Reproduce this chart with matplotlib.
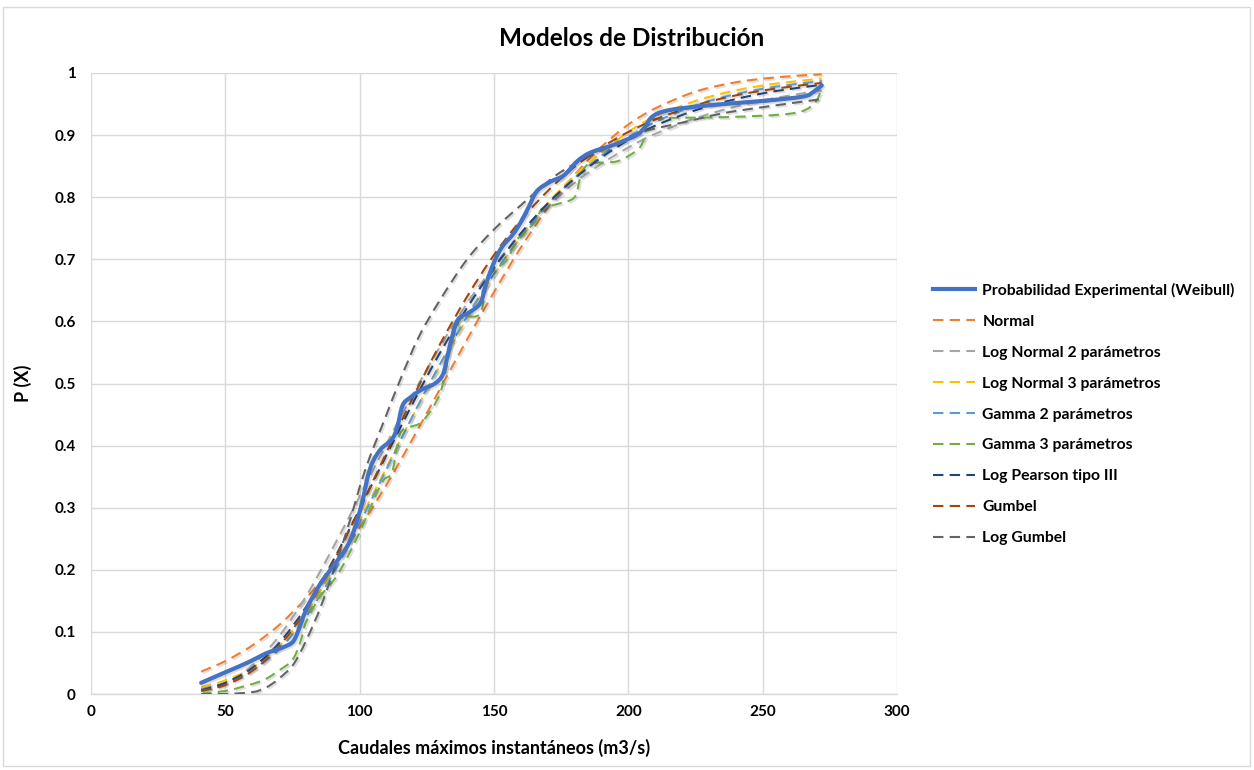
import matplotlib
matplotlib.use("Agg")
import matplotlib.pyplot as plt
import numpy as np
from matplotlib.path import Path
from matplotlib.patches import PathPatch, Rectangle
from matplotlib.lines import Line2D
import matplotlib.patheffects as pe


plt.rcParams["font.family"] = ["Lato", "DejaVu Sans"]
plt.rcParams["font.weight"] = "bold"

# --- datos ---
# probabilidad experimental (Weibull)
exp_x = [41, 50, 58, 65.5, 73, 76, 80, 85, 90, 95, 98, 101, 103, 105, 108, 112,
         114, 116, 119, 123, 128, 131, 133, 135, 137, 141, 145, 147, 150, 153,
         157, 160, 163, 166, 171, 176, 181, 186, 195, 203, 206, 209, 215, 230,
         250, 265, 269, 272]
exp_p = [0.018, 0.035, 0.05, 0.066, 0.078, 0.09, 0.135, 0.175, 0.205, 0.235,
         0.265, 0.31, 0.35, 0.375, 0.395, 0.41, 0.43, 0.465, 0.478, 0.49, 0.50,
         0.515, 0.55, 0.585, 0.605, 0.615, 0.63, 0.66, 0.695, 0.72, 0.74, 0.76,
         0.785, 0.81, 0.825, 0.835, 0.858, 0.872, 0.885, 0.90, 0.912, 0.93,
         0.94, 0.948, 0.955, 0.962, 0.97, 0.98]

fit_x = [41, 50, 60, 70, 80, 90, 100, 110, 120, 130, 140, 150, 160, 170, 180,
         190, 200, 210, 225, 240, 255, 272]
normal_p = [0.036, 0.053, 0.078, 0.111, 0.154, 0.206, 0.268, 0.337, 0.413,
            0.492, 0.571, 0.647, 0.719, 0.782, 0.836, 0.881, 0.917, 0.943,
            0.970, 0.985, 0.993, 0.998]
lognormal2_p = [0.005, 0.017, 0.046, 0.093, 0.157, 0.235, 0.318, 0.403, 0.484,
                0.56, 0.629, 0.689, 0.741, 0.785, 0.823, 0.854, 0.88, 0.902,
                0.927, 0.946, 0.96, 0.972]
lognormal3_p = [0.011, 0.022, 0.042, 0.077, 0.13, 0.2, 0.28, 0.365, 0.45, 0.53,
                0.605, 0.675, 0.735, 0.79, 0.835, 0.872, 0.905, 0.93, 0.955,
                0.972, 0.983, 0.991]
gamma2_p = [0.008, 0.018, 0.038, 0.072, 0.124, 0.193, 0.275, 0.362, 0.45,
            0.532, 0.608, 0.676, 0.736, 0.788, 0.831, 0.867, 0.897, 0.921,
            0.948, 0.966, 0.978, 0.987]
logpearson_p = [0.006, 0.018, 0.042, 0.082, 0.14, 0.214, 0.298, 0.385, 0.47,
                0.55, 0.622, 0.686, 0.742, 0.79, 0.83, 0.864, 0.892, 0.915,
                0.94, 0.958, 0.971, 0.981]
gumbel_p = [0.005, 0.0145, 0.037, 0.077, 0.135, 0.211, 0.298, 0.389, 0.479,
            0.564, 0.64, 0.707, 0.763, 0.81, 0.849, 0.88, 0.905, 0.925, 0.948,
            0.964, 0.975, 0.984]

gamma3_x = [41, 50, 55, 64, 70, 75, 78, 80, 85, 91, 96, 101, 106, 109, 112,
            114, 116, 122.5, 127, 130, 132, 133.6, 136, 138.5, 145, 147, 151,
            155, 158.5, 163, 166, 168, 174.5, 180, 182, 184, 187, 196, 203,
            205.5, 207, 212, 237, 261, 269, 272]
gamma3_p = [0.0, 0.005, 0.01, 0.022, 0.038, 0.055, 0.085, 0.115, 0.155, 0.187,
            0.225, 0.27, 0.32, 0.345, 0.356, 0.40, 0.425, 0.436, 0.46, 0.485,
            0.52, 0.554, 0.59, 0.607, 0.613, 0.667, 0.685, 0.70, 0.731, 0.75,
            0.763, 0.782, 0.79, 0.80, 0.83, 0.849, 0.855, 0.858, 0.875, 0.89,
            0.92, 0.927, 0.929, 0.935, 0.95, 0.975]

loggumbel_x = [41, 50, 60, 65, 70, 76, 83, 88, 95, 102, 110, 115, 122, 130,
               140, 150, 160, 173, 185, 195, 205, 220, 235, 250, 272]
loggumbel_p = [0.0, 0.0, 0.003, 0.01, 0.025, 0.052, 0.114, 0.17, 0.26, 0.36,
               0.45, 0.505, 0.575, 0.635, 0.70, 0.748, 0.787, 0.835, 0.865,
               0.885, 0.905, 0.92, 0.935, 0.945, 0.958]

x_ticks = [0, 50, 100, 150, 200, 250, 300]
y_ticks = [0, 0.1, 0.2, 0.3, 0.4, 0.5, 0.6, 0.7, 0.8, 0.9, 1]


def smooth_path(xs, ys):
    # curva suavizada tipo Excel (Catmull-Rom -> Bezier)
    pts = np.column_stack([xs, ys]).astype(float)
    verts = [pts[0]]
    codes = [Path.MOVETO]
    n = len(pts)
    for i in range(n - 1):
        p0 = pts[i - 1] if i > 0 else pts[i]
        p1 = pts[i]
        p2 = pts[i + 1]
        p3 = pts[i + 2] if i + 2 < n else pts[i + 1]
        c1 = p1 + (p2 - p0) / 6.0
        c2 = p2 - (p3 - p1) / 6.0
        verts += [c1, c2, p2]
        codes += [Path.CURVE4] * 3
    return Path(verts, codes)


def draw_series(ax, xs, ys, color, lw, dashed, z=3):
    ls = (0, (5, 3)) if dashed else "-"
    patch = PathPatch(smooth_path(xs, ys), fill=False, edgecolor=color,
                      linewidth=lw, linestyle=ls,
                      capstyle="butt" if dashed else "round",
                      joinstyle="round", zorder=z)
    patch.set_path_effects([
        pe.SimpleLineShadow(offset=(1.2, -1.2), shadow_color="black", alpha=0.12),
        pe.Normal(),
    ])
    ax.add_patch(patch)
    return Line2D([], [], color=color, linewidth=lw, linestyle=ls)


fig = plt.figure(figsize=(12.54, 7.70), dpi=100)
ax = fig.add_axes([91 / 1254, 1 - 694 / 770, 806 / 1254, 621 / 770])

series = [
    ("Probabilidad Experimental (Weibull)", exp_x, exp_p, "#4472C4", 3.0, False),
    ("Normal", fit_x, normal_p, "#ED7D31", 1.5, True),
    ("Log Normal 2 parámetros", fit_x, lognormal2_p, "#A5A5A5", 1.5, True),
    ("Log Normal 3 parámetros", fit_x, lognormal3_p, "#FFC000", 1.5, True),
    ("Gamma 2 parámetros", fit_x, gamma2_p, "#5B9BD5", 1.5, True),
    ("Gamma 3 parámetros", gamma3_x, gamma3_p, "#70AD47", 1.5, True),
    ("Log Pearson tipo III", fit_x, logpearson_p, "#264478", 1.5, True),
    ("Gumbel", fit_x, gumbel_p, "#9E480E", 1.5, True),
    ("Log Gumbel", loggumbel_x, loggumbel_p, "#636363", 1.5, True),
]

handles = []
labels = []
for i, (name, xs, ys, color, lw, dashed) in enumerate(series):
    z = 5 if i == 0 else 3
    handles.append(draw_series(ax, xs, ys, color, lw, dashed, z))
    labels.append(name)

ax.set_xlim(0, 300)
ax.set_ylim(0, 1)
ax.set_xticks(x_ticks)
ax.set_yticks(y_ticks)
ax.set_yticklabels([f"{v:g}" for v in y_ticks])
ax.tick_params(axis="both", length=0, labelsize=11)
ax.tick_params(axis="y", pad=11)
ax.tick_params(axis="x", pad=8)
for lab in ax.get_xticklabels() + ax.get_yticklabels():
    lab.set_fontweight("bold")
ax.grid(True, color="#D9D9D9", linewidth=1.0)
ax.set_axisbelow(True)
for side in ["top", "right", "left"]:
    ax.spines[side].set_visible(False)
ax.spines["bottom"].set_color("#D9D9D9")
ax.spines["bottom"].set_linewidth(1.0)

ax.set_xlabel("Caudales máximos instantáneos (m3/s)", fontsize=13, fontweight="bold")
ax.set_ylabel("P (X)", fontsize=13, fontweight="bold")
ax.xaxis.set_label_coords(0.5, -0.072)
ax.yaxis.set_label_coords(-0.073, 0.5)

fig.text(632 / 1254, 1 - 38 / 770, "Modelos de Distribución", ha="center",
         va="center", fontsize=17.5, fontweight="bold")

fig.legend(handles, labels, loc="center left",
           bbox_to_anchor=(933 / 1254, 1 - 414 / 770), frameon=False,
           fontsize=11.3, handlelength=2.7, handletextpad=0.45,
           labelspacing=1.08, borderaxespad=0.0, borderpad=0.0)

fig.patches.append(Rectangle((3 / 1254, 4 / 770), 1247 / 1254, 759 / 770,
                             transform=fig.transFigure, fill=False,
                             edgecolor="#D9D9D9", linewidth=1.0))

fig.savefig("out.png", dpi=100)
